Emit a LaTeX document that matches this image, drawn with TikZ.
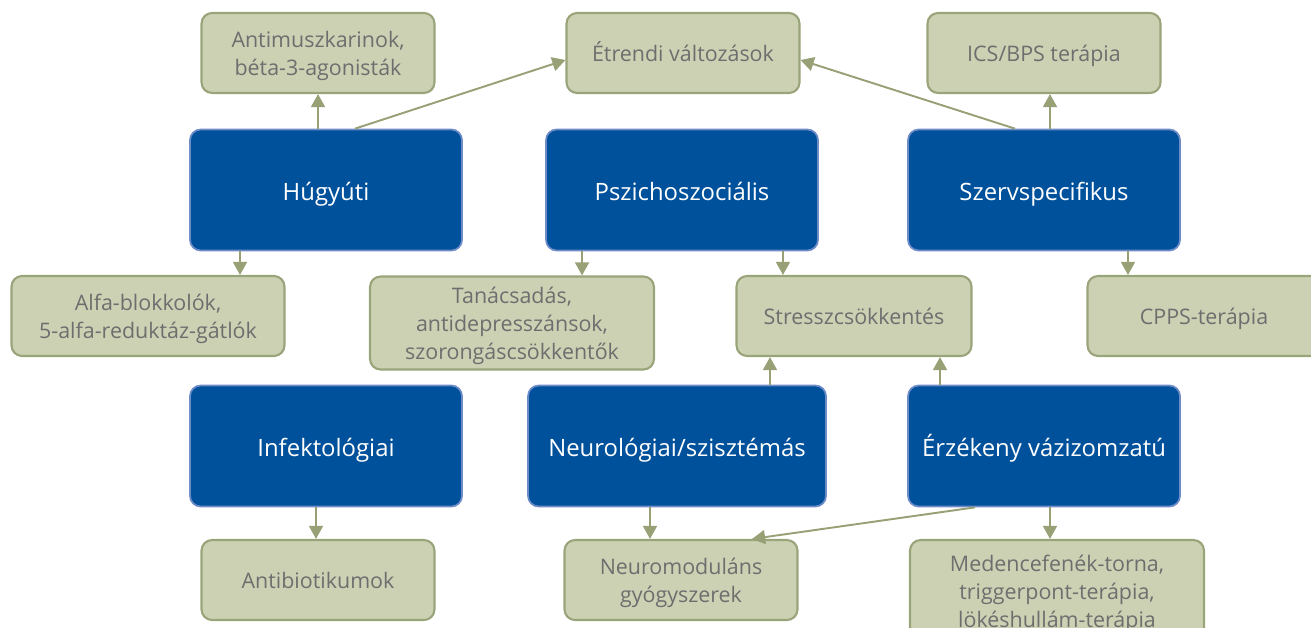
\documentclass[tikz,border=0pt]{standalone}
\usepackage{fontspec}
\setmainfont{Open Sans}
\usetikzlibrary{arrows.meta}
\definecolor{boxblue}{RGB}{0,81,155}
\definecolor{boxblueline}{RGB}{110,140,200}
\definecolor{boxgreen}{RGB}{205,209,180}
\definecolor{boxgreenline}{RGB}{154,164,122}
\definecolor{textgray}{RGB}{110,110,110}
\definecolor{arrowgreen}{RGB}{152,161,118}

\begin{document}
\begin{tikzpicture}[x=0.02cm, y=-0.02cm, >={Triangle[length=7.5pt,width=8pt]}]
      \tikzstyle{bnode} = [draw=boxblueline, fill=boxblue, line width=1pt, rounded corners=6pt, text=white, minimum width=5.44cm, minimum height=2.42cm, inner sep=0pt, text height=12pt, text depth=0pt, font=\fontsize{13.6}{16}\selectfont]
      \tikzstyle{gnode} = [draw=boxgreenline, fill=boxgreen, line width=1.2pt, rounded corners=6pt, text=textgray, minimum width=4.66cm, minimum height=1.6cm, inner sep=0pt, align=center, text depth=0pt, font=\fontsize{12.2}{16}\selectfont]
      \tikzstyle{gline} = [gnode, text height=10pt]
      \tikzstyle{conn} = [->, arrowgreen, line width=1.1pt]

      \clip (0,0) rectangle (1311,628);

      %%%%%%%%%%%%%%%%%%%%%%%%%%%%%%
      %% The six domains
      %%%%%%%%%%%%%%%%%%%%%%%%%%%%%%
      \node[bnode] (hug) at (326,190) {Húgyúti};
      \node[bnode] (psz) at (682,190) {Pszichoszociális};
      \node[bnode] (szv) at (1044,190) {Szervspecifikus};

      \node[bnode] (inf) at (326,446) {Infektológiai};
      \node[bnode, minimum width=5.96cm] (neu) at (677,446) {Neurológiai/szisztémás};
      \node[bnode] (erz) at (1044,446) {Érzékeny vázizomzatú};

      %%%%%%%%%%%%%%%%%%%%%%%%%%%%%%
      %% The therapies
      %%%%%%%%%%%%%%%%%%%%%%%%%%%%%%
      \node[gnode] (ant) at (318,53) {Antimuszkarinok,\\béta-3-agonisták};
      \node[gline] (etr) at (683,53) {Étrendi változások};
      \node[gline] (ics) at (1044,53) {ICS/BPS terápia};

      \node[gnode, minimum width=5.46cm] (alf) at (148,316) {Alfa-blokkolók,\\5-alfa-reduktáz-gátlók};
      \node[gnode, minimum width=5.68cm, minimum height=1.86cm] (tan) at (512,323) {Tanácsadás,\\antidepresszánsok,\\szorongáscsökkentők};
      \node[gline, minimum width=4.7cm] (str) at (854,316) {Stresszcsökkentés};
      \node[gline] (cpp) at (1204,316) {CPPS-terápia};

      \node[gline] (abi) at (318,580) {Antibiotikumok};
      \node[gnode] (nmd) at (681,580) {Neuromoduláns\\gyógyszerek};
      \node[gnode, minimum width=5.88cm, minimum height=2.04cm] (med) at (1057,591) {Medencefenék-torna,\\triggerpont-terápia,\\lökéshullám-terápia};

      % edges upper row
      \draw[conn] (ant.south |- hug.north) -- (ant.south);
      \draw[conn] ([xshift=0.58cm]hug.north) -- ([yshift=-0.14cm]etr.west);
      \draw[conn] ([xshift=-0.58cm]szv.north) -- ([yshift=-0.14cm]etr.east);
      \draw[conn] ([xshift=0.12cm]szv.north) -- ([xshift=0.12cm]szv.north |- ics.south);

      \draw[conn] ([xshift=-1.72cm]hug.south) -- ([xshift=-1.72cm]hug.south |- alf.north);
      \draw[conn] ([xshift=-2cm]psz.south) -- ([xshift=-2cm]psz.south |- tan.north);
      \draw[conn] ([xshift=2.02cm]psz.south) -- ([xshift=2.02cm]psz.south |- str.north);
      \draw[conn] ([xshift=1.68cm]szv.south) -- ([xshift=1.68cm]szv.south |- cpp.north);

      % edges lower row
      \draw[conn] ([xshift=1.86cm]neu.north) -- ([xshift=1.86cm]neu.north |- str.south);
      \draw[conn] ([xshift=-2.08cm]erz.north) -- ([xshift=-2.08cm]erz.north |- str.south);

      \draw[conn] ([xshift=-0.2cm]inf.south) -- ([xshift=-0.2cm]inf.south |- abi.north);
      \draw[conn] ([xshift=-0.54cm]neu.south) -- ([xshift=-0.54cm]neu.south |- nmd.north);
      \draw[conn] ([xshift=-1.38cm]erz.south) -- ([xshift=1.42cm]nmd.north);
      \draw[conn] ([xshift=0.12cm]erz.south) -- ([xshift=0.12cm]erz.south |- med.north);

\end{tikzpicture}
\end{document}
